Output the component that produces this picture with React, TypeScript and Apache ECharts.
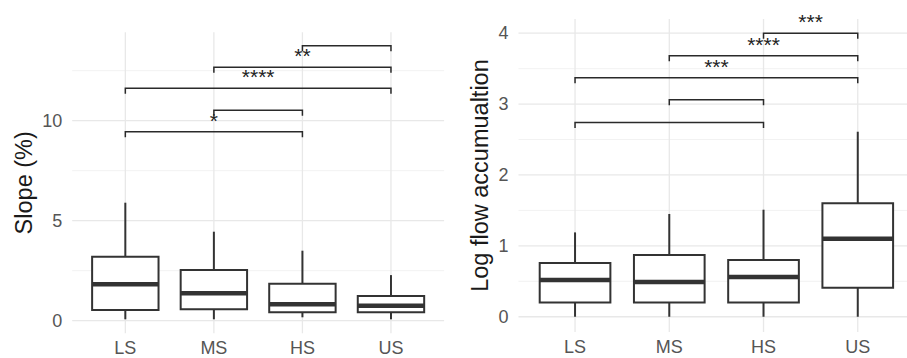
import React, { useEffect, useRef } from "react";
import * as echarts from "echarts";

// ---- data ----
const categories = ["LS", "MS", "HS", "US"];

// [min, q1, median, q3, max] per category
const slopeLS = [0.07, 0.53, 1.82, 3.2, 5.9];
const slopeMS = [0.07, 0.57, 1.37, 2.53, 4.45];
const slopeHS = [0.17, 0.42, 0.82, 1.85, 3.5];
const slopeUS = [0.07, 0.42, 0.75, 1.23, 2.28];

const flowLS = [0, 0.2, 0.52, 0.76, 1.19];
const flowMS = [0, 0.2, 0.49, 0.87, 1.45];
const flowHS = [0, 0.2, 0.56, 0.8, 1.51];
const flowUS = [0, 0.41, 1.1, 1.6, 2.61];

// brackets: [fromIndex, toIndex, y]
const slopeBrackets = [
  [0, 2, 9.45],
  [1, 2, 10.52],
  [0, 3, 11.62],
  [1, 3, 12.67],
  [2, 3, 13.75],
];
const slopeBracketLabels = ["*", "", "****", "**", ""];

const flowBrackets = [
  [0, 2, 2.74],
  [1, 2, 3.06],
  [0, 3, 3.37],
  [1, 3, 3.68],
  [2, 3, 4.0],
];
const flowBracketLabels = ["", "", "***", "****", "***"];

const slopeTicks = [0, 5, 10];
const slopeMinorTicks = [2.5, 7.5, 12.5];
const flowTicks = [0, 1, 2, 3, 4];
const flowMinorTicks = [0.5, 1.5, 2.5, 3.5];

const FONT = "'Liberation Sans', Arial, sans-serif";
const DARK = "#333333";

function boxRender(params: any, api: any) {
  const x = api.value(0);
  const lo = api.value(1);
  const q1 = api.value(2);
  const med = api.value(3);
  const q3 = api.value(4);
  const hi = api.value(5);
  const half = 0.375;
  const cx = api.coord([x, med])[0];
  const xl = api.coord([x - half, med])[0];
  const xr = api.coord([x + half, med])[0];
  const yLo = api.coord([x, lo])[1];
  const yQ1 = api.coord([x, q1])[1];
  const yMed = api.coord([x, med])[1];
  const yQ3 = api.coord([x, q3])[1];
  const yHi = api.coord([x, hi])[1];
  const ls = { stroke: DARK, lineWidth: 2, fill: null };
  return {
    type: "group",
    children: [
      { type: "line", shape: { x1: cx, y1: yQ3, x2: cx, y2: yHi }, style: ls },
      { type: "line", shape: { x1: cx, y1: yQ1, x2: cx, y2: yLo }, style: ls },
      {
        type: "rect",
        shape: { x: xl, y: yQ3, width: xr - xl, height: yQ1 - yQ3 },
        style: { fill: "#ffffff", stroke: DARK, lineWidth: 2 },
      },
      {
        type: "line",
        shape: { x1: xl, y1: yMed, x2: xr, y2: yMed },
        style: { stroke: DARK, lineWidth: 4.5 },
      },
    ],
  };
}

function makeBracketRender(labels: string[]) {
  return function (params: any, api: any) {
    const x1 = api.value(0);
    const x2 = api.value(1);
    const y = api.value(2);
    const idx = params.dataIndex;
    const a = api.coord([x1, y]);
    const b = api.coord([x2, y]);
    const tip = 5.5;
    const children: any[] = [
      {
        type: "polyline",
        shape: {
          points: [
            [a[0], a[1] + tip],
            [a[0], a[1]],
            [b[0], b[1]],
            [b[0], b[1] + tip],
          ],
        },
        style: { stroke: "#2a2a2a", lineWidth: 1.5, fill: null },
      },
    ];
    const t = labels[idx];
    if (t) {
      children.push({
        type: "text",
        x: (a[0] + b[0]) / 2,
        y: a[1] - 11.5,
        style: {
          text: t,
          fill: "#222222",
          fontSize: 21,
          fontFamily: FONT,
          align: "center",
          verticalAlign: "middle",
        },
      });
    }
    return { type: "group", children };
  };
}

function hLineRender(color: string, width: number) {
  return function (params: any, api: any) {
    const cs = params.coordSys;
    const y = api.coord([0, api.value(1)])[1];
    return {
      type: "line",
      shape: { x1: cs.x, y1: y, x2: cs.x + cs.width, y2: y },
      style: { stroke: color, lineWidth: width },
    };
  };
}

function vLineRender(color: string, width: number) {
  return function (params: any, api: any) {
    const cs = params.coordSys;
    const x = api.coord([api.value(0), 0])[0];
    return {
      type: "line",
      shape: { x1: x, y1: cs.y, x2: x, y2: cs.y + cs.height },
      style: { stroke: color, lineWidth: width },
    };
  };
}

export default function App() {
  const ref = useRef<HTMLDivElement>(null);

  useEffect(() => {
    document.body.style.margin = "0";
    if (!ref.current) return;
    const chart = echarts.init(ref.current, undefined, { renderer: "svg" });

    const slopeBoxData = [slopeLS, slopeMS, slopeHS, slopeUS].map((s, i) => [i, ...s]);
    const flowBoxData = [flowLS, flowMS, flowHS, flowUS].map((s, i) => [i, ...s]);
    const catIdx = categories.map((_, i) => [i, 0]);

    const xAxisBase = (gridIndex: number) => ({
      type: "value",
      gridIndex,
      min: -0.6,
      max: 3.6,
      axisLine: { show: false },
      axisTick: { show: false },
      splitLine: { show: false },
      axisLabel: {
        customValues: [0, 1, 2, 3],
        formatter: (v: number) => categories[Math.round(v)] ?? "",
        fontSize: 18,
        lineHeight: 18,
        color: "#555555",
        fontFamily: FONT,
        margin: 6,
      },
    });

    const yName = { fontSize: 23.5, color: "#1a1a1a", fontFamily: FONT };

    const option: any = {
      animation: false,
      grid: [
        { left: 72.2, top: 32.3, width: 371.9, height: 301, outerBoundsMode: "none" },
        { left: 518.5, top: 19, width: 395.8, height: 313, outerBoundsMode: "none" },
      ],
      xAxis: [xAxisBase(0), xAxisBase(1)],
      yAxis: [
        {
          type: "value",
          gridIndex: 0,
          min: -0.63,
          max: 14.42,
          axisLine: { show: false },
          axisTick: { show: false },
          splitLine: { show: false },
          axisLabel: {
            customValues: slopeTicks,
            fontSize: 18,
            color: "#555555",
            fontFamily: FONT,
            margin: 10,
          },
          name: "Slope (%)",
          nameLocation: "middle",
          nameRotate: 90,
          nameGap: 36,
          nameTextStyle: yName,
        },
        {
          type: "value",
          gridIndex: 1,
          min: -0.215,
          max: 4.2,
          axisLine: { show: false },
          axisTick: { show: false },
          splitLine: { show: false },
          axisLabel: {
            customValues: flowTicks,
            fontSize: 18,
            color: "#555555",
            fontFamily: FONT,
            margin: 10,
          },
          name: "Log flow accumualtion",
          nameLocation: "middle",
          nameRotate: 90,
          nameGap: 27,
          nameTextStyle: yName,
        },
      ],
      series: [
        // grid lines panel 1
        {
          type: "custom",
          xAxisIndex: 0,
          yAxisIndex: 0,
          renderItem: hLineRender("#f1f1f1", 0.9),
          data: slopeMinorTicks.map((v) => [0, v]),
          z: 1,
          silent: true,
        },
        {
          type: "custom",
          xAxisIndex: 0,
          yAxisIndex: 0,
          renderItem: hLineRender("#e8e8e8", 1.3),
          data: slopeTicks.map((v) => [0, v]),
          z: 1,
          silent: true,
        },
        {
          type: "custom",
          xAxisIndex: 0,
          yAxisIndex: 0,
          renderItem: vLineRender("#e8e8e8", 1.3),
          data: catIdx,
          z: 1,
          silent: true,
        },
        // grid lines panel 2
        {
          type: "custom",
          xAxisIndex: 1,
          yAxisIndex: 1,
          renderItem: hLineRender("#f1f1f1", 0.9),
          data: flowMinorTicks.map((v) => [0, v]),
          z: 1,
          silent: true,
        },
        {
          type: "custom",
          xAxisIndex: 1,
          yAxisIndex: 1,
          renderItem: hLineRender("#e8e8e8", 1.3),
          data: flowTicks.map((v) => [0, v]),
          z: 1,
          silent: true,
        },
        {
          type: "custom",
          xAxisIndex: 1,
          yAxisIndex: 1,
          renderItem: vLineRender("#e8e8e8", 1.3),
          data: catIdx,
          z: 1,
          silent: true,
        },
        // boxes
        {
          type: "custom",
          xAxisIndex: 0,
          yAxisIndex: 0,
          renderItem: boxRender,
          data: slopeBoxData,
          encode: { x: 0, y: [1, 2, 3, 4, 5] },
          z: 3,
        },
        {
          type: "custom",
          xAxisIndex: 1,
          yAxisIndex: 1,
          renderItem: boxRender,
          data: flowBoxData,
          encode: { x: 0, y: [1, 2, 3, 4, 5] },
          z: 3,
        },
        // brackets
        {
          type: "custom",
          xAxisIndex: 0,
          yAxisIndex: 0,
          renderItem: makeBracketRender(slopeBracketLabels),
          data: slopeBrackets,
          encode: { x: [0, 1], y: 2 },
          z: 4,
        },
        {
          type: "custom",
          xAxisIndex: 1,
          yAxisIndex: 1,
          renderItem: makeBracketRender(flowBracketLabels),
          data: flowBrackets,
          encode: { x: [0, 1], y: 2 },
          z: 4,
        },
      ],
    };

    chart.setOption(option);
    return () => chart.dispose();
  }, []);

  return <div ref={ref} style={{ width: 907, height: 358 }} />;
}
